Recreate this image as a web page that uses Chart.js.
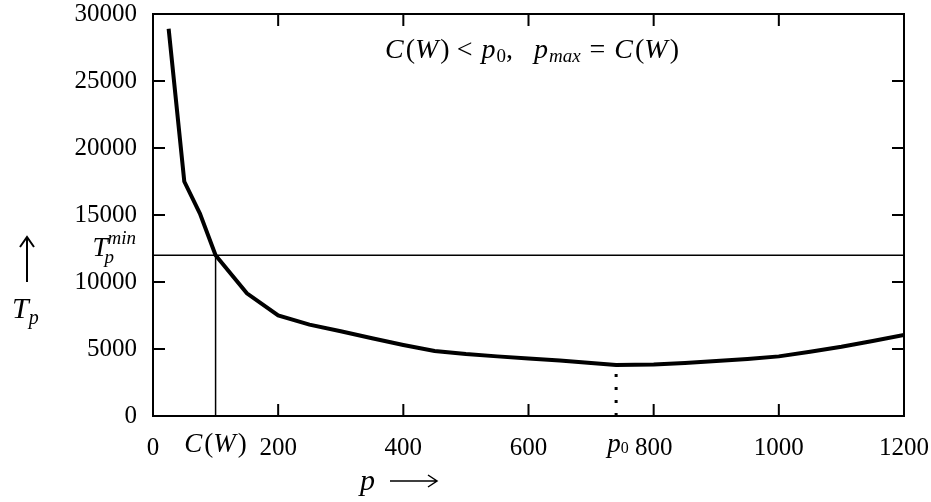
<!DOCTYPE html>
<html>
<head>
<meta charset="utf-8">
<script src="https://cdn.jsdelivr.net/npm/chart.js@4.4.1/dist/chart.umd.min.js"></script>
<style>
  html, body { margin: 0; padding: 0; background: #fff; }
  #wrap { width: 931px; height: 502px; }
</style>
</head>
<body>
<div id="wrap"><canvas id="tpChart"></canvas></div>
<script>
// p (x) and T_p (y)
const pValues = [25, 50, 75, 100, 150, 200, 250, 300, 350, 400, 450, 500, 550, 600, 650, 700, 740, 800, 850, 900, 950, 1000, 1050, 1100, 1150, 1200];
const tpValues = [28900, 17500, 15100, 12000, 9150, 7500, 6820, 6320, 5800, 5300, 4850, 4620, 4450, 4300, 4150, 3950, 3800, 3850, 3950, 4100, 4250, 4450, 4800, 5170, 5600, 6040];
const xTicks = [0, 200, 400, 600, 800, 1000, 1200];
const yTicks = [0, 5000, 10000, 15000, 20000, 25000, 30000];
const tpMin = 12000;   // T_p^min
const cW = 100;        // C(W)
const p0 = 740;        // p_0
const tpAtP0 = 3800;

const SERIF = '"Liberation Serif", "DejaVu Serif", serif';
const rm = s => s + 'px ' + SERIF;
const it = s => 'italic ' + s + 'px ' + SERIF;

// draw a run of text pieces with their own fonts and baseline shifts
function drawRich(ctx, x, y, parts, align) {
    let total = 0;
    parts.forEach(p => { ctx.font = p.f; total += ctx.measureText(p.t).width + (p.k || 0); });
    let cx = align === 'right' ? x - total : align === 'center' ? x - total / 2 : x;
    parts.forEach(p => {
        ctx.font = p.f;
        ctx.fillText(p.t, cx, y + (p.dy || 0));
        cx += ctx.measureText(p.t).width + (p.k || 0);
    });
}

// keep the plot box where the reference has it (no label overflow padding)
const noPad = s => { s.paddingTop = 0; s.paddingBottom = 0; s.paddingLeft = 0; s.paddingRight = 0; };

const decorations = {
    id: 'decorations',
    afterDraw(chart) {
        const { ctx, chartArea: a, scales: { x, y } } = chart;
        ctx.save();
        ctx.strokeStyle = '#000';
        ctx.fillStyle = '#000';

        // frame
        ctx.lineWidth = 2;
        ctx.strokeRect(a.left, a.top, a.right - a.left, a.bottom - a.top);

        // inward ticks, mirrored
        const tl = 12;
        ctx.beginPath();
        x.ticks.forEach(t => {
            const px = x.getPixelForValue(t.value);
            ctx.moveTo(px, a.bottom); ctx.lineTo(px, a.bottom - tl);
            ctx.moveTo(px, a.top); ctx.lineTo(px, a.top + tl);
        });
        y.ticks.forEach(t => {
            const py = y.getPixelForValue(t.value);
            ctx.moveTo(a.left, py); ctx.lineTo(a.left + tl, py);
            ctx.moveTo(a.right, py); ctx.lineTo(a.right - tl, py);
        });
        ctx.stroke();

        ctx.textBaseline = 'alphabetic';
        // title inside the plot
        const T = 28, S = 19;
        drawRich(ctx, 532, 58, [
            { t: 'C', f: it(T), k: 2 }, { t: '(', f: rm(T) }, { t: 'W', f: it(T), k: 2 }, { t: ')', f: rm(T) },
            { t: ' < ', f: rm(T), k: 2 }, { t: 'p', f: it(T), k: 1 }, { t: '0', f: rm(S), dy: 4 }, { t: ',   ', f: rm(T) },
            { t: 'p', f: it(T), k: 1 }, { t: 'max', f: it(S), dy: 4, k: 2 }, { t: ' = ', f: rm(T), k: 2 },
            { t: 'C', f: it(T), k: 2 }, { t: '(', f: rm(T) }, { t: 'W', f: it(T), k: 2 }, { t: ')', f: rm(T) }
        ], 'center');

        // extra x labels: C(W) and p0
        const xl = a.bottom + 36;
        drawRich(ctx, x.getPixelForValue(cW), xl, [
            { t: 'C', f: it(27), k: 2 }, { t: '(', f: rm(27) }, { t: 'W', f: it(27), k: 2 }, { t: ')', f: rm(27) }
        ], 'center');
        drawRich(ctx, x.getPixelForValue(p0) + 2, xl, [
            { t: 'p', f: it(27) }, { t: '0', f: rm(16), dy: 1 }
        ], 'center');

        // T_p^min label
        const ym = y.getPixelForValue(tpMin);
        ctx.font = it(27);
        const tw = ctx.measureText('T').width;
        ctx.font = it(19);
        const mw = ctx.measureText('min').width;
        const lx = a.left - 17 - tw - mw;
        ctx.font = it(27);
        ctx.fillText('T', lx, ym + 1);
        ctx.font = it(19);
        ctx.fillText('min', lx + tw, ym - 11);
        ctx.fillText('p', lx + tw - 3, ym + 8);

        // y axis label: arrow + T_p
        ctx.lineWidth = 2;
        ctx.beginPath();
        ctx.moveTo(27, 282); ctx.lineTo(27, 238);
        ctx.moveTo(20, 247); ctx.lineTo(27, 237); ctx.lineTo(34, 247);
        ctx.stroke();
        drawRich(ctx, 12, 318, [{ t: 'T', f: it(30) }, { t: 'p', f: it(20), dy: 6 }], 'left');

        // x axis label: p + arrow
        drawRich(ctx, 360, 490, [{ t: 'p', f: it(30) }], 'left');
        ctx.lineWidth = 1.5;
        ctx.beginPath();
        ctx.moveTo(390, 481); ctx.lineTo(436, 481);
        ctx.moveTo(428, 475); ctx.lineTo(437, 481); ctx.lineTo(428, 487);
        ctx.stroke();
        ctx.restore();
    }
};

new Chart(document.getElementById('tpChart'), {
    type: 'line',
    data: {
        datasets: [
            {
                data: pValues.map((p, i) => ({ x: p, y: tpValues[i] })),
                borderColor: '#000', borderWidth: 4, pointRadius: 0, tension: 0
            },
            {
                data: [{ x: xTicks[0], y: tpMin }, { x: xTicks[xTicks.length - 1], y: tpMin }],
                borderColor: '#000', borderWidth: 1.5, pointRadius: 0
            },
            {
                data: [{ x: cW, y: 0 }, { x: cW, y: tpMin }],
                borderColor: '#000', borderWidth: 1.5, pointRadius: 0
            },
            {
                data: [{ x: p0, y: 0 }, { x: p0, y: tpAtP0 }],
                borderColor: '#000', borderWidth: 3, borderDash: [3, 10], borderCapStyle: 'butt', pointRadius: 0
            }
        ]
    },
    options: {
        responsive: true,
        maintainAspectRatio: false,
        animation: false,
        layout: { padding: { top: 14, right: 27, left: 0, bottom: 0 } },
        plugins: { legend: { display: false }, tooltip: { enabled: false } },
        scales: {
            x: {
                type: 'linear', min: 0, max: 1200,
                afterBuildTicks: s => { s.ticks = xTicks.map(v => ({ value: v })); },
                afterFit: s => { s.height = 86; noPad(s); },
                grid: { display: false, drawTicks: false },
                border: { display: false },
                ticks: { color: '#000', padding: 17, font: { family: SERIF, size: 25 }, maxRotation: 0, callback: v => String(v) }
            },
            y: {
                type: 'linear', min: 0, max: 30000,
                afterBuildTicks: s => { s.ticks = yTicks.map(v => ({ value: v })); },
                afterFit: s => { s.width = 153; noPad(s); },
                grid: { display: false, drawTicks: false },
                border: { display: false },
                ticks: { color: '#000', padding: 16, font: { family: SERIF, size: 25 }, callback: v => String(v) }
            }
        }
    },
    plugins: [decorations]
});
</script>
</body>
</html>
